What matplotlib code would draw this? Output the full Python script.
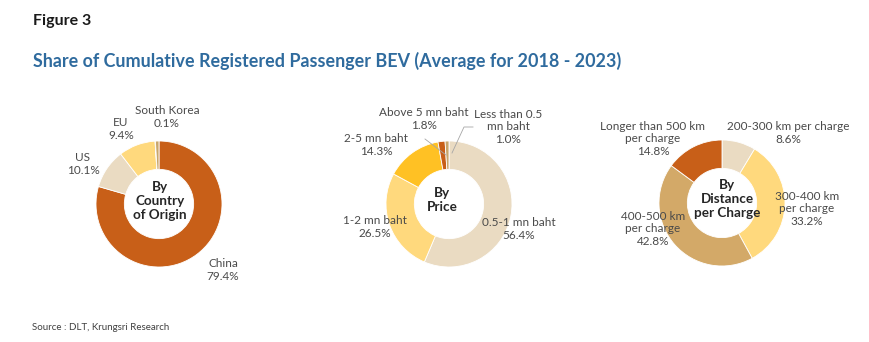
import matplotlib.pyplot as plt

plt.rcParams['font.family'] = ['Lato', 'DejaVu Sans']

# data
country_labels = ['China', 'US', 'EU', 'South Korea', '']
country_values = [79.4, 10.1, 9.4, 0.1, 0.9]
price_labels = ['0.5-1 mn baht', '1-2 mn baht', '2-5 mn baht', 'Above 5 mn baht', 'Less than 0.5\nmn baht']
price_values = [56.4, 26.5, 14.3, 1.8, 1.0]
dist_labels = ['200-300 km per charge', '300-400 km\nper charge', '400-500 km\nper charge', 'Longer than 500 km\nper charge']
dist_values = [8.6, 33.2, 42.8, 14.8]

ORANGE = '#C85F18'
BEIGE = '#EADBC2'
LYELLOW = '#FFD97D'
GOLD = '#FFC124'
TAN = '#C9A66B'
TAN2 = '#D3A968'

W, H = 870, 342
fig = plt.figure(figsize=(W / 100, H / 100), dpi=100)
ax = fig.add_axes([0, 0, 1, 1])

R = 63
WIDTH = 0.45


# y axis is inverted later, so startangle -90 = top and counterclock draws clockwise on screen
def donut(values, colors, cx, cy):
    ax.pie(values, colors=colors, center=(cx, cy), radius=R, startangle=-90,
           counterclock=True, wedgeprops=dict(width=R * WIDTH, edgecolor='white', linewidth=0.6),
           frame=True)


donut(country_values, [ORANGE, BEIGE, LYELLOW, TAN, TAN], 159, 204)
donut(price_values, [BEIGE, LYELLOW, GOLD, ORANGE, TAN], 449, 204)
donut(dist_values, [BEIGE, LYELLOW, TAN2, ORANGE], 722, 203)
ax.set_xlim(0, W)
ax.set_ylim(H, 0)
ax.set_aspect('auto')
ax.axis('off')

lab = dict(fontsize=8.5, color='#4A4A4A', ha='center', va='center', linespacing=1.2)
ctr = dict(fontsize=9.7, color='#262626', ha='center', va='center', fontweight='bold', linespacing=1.2)


def pct(v):
    return f'{v:.1f}%'


# country labels
ax.text(223, 270, f'{country_labels[0]}\n{pct(country_values[0])}', **lab)
ax.text(83, 164, f'{country_labels[1]}\n{pct(country_values[1])}', **lab)
ax.text(121, 129, f'{country_labels[2]}\n{pct(country_values[2])}', **lab)
ax.text(167, 117, f'{country_labels[3]}\n{pct(country_values[3])}', **lab)
ax.text(160, 201, 'By\nCountry\nof Origin', **ctr)

# price labels
ax.text(519, 229, f'{price_labels[0]}\n{pct(price_values[0])}', **lab)
ax.text(375, 227, f'{price_labels[1]}\n{pct(price_values[1])}', **lab)
ax.text(376, 145, f'{price_labels[2]}\n{pct(price_values[2])}', **lab)
ax.text(424, 119, f'{price_labels[3]}\n{pct(price_values[3])}', **lab)
ax.text(508, 127, f'{price_labels[4]}\n{pct(price_values[4])}', **lab)
ax.text(442, 200, 'By\nPrice', **ctr)
ax.plot([425, 446], [139, 155], color='#A6A6A6', lw=0.6)
ax.plot([473, 464, 452], [127, 127, 153], color='#A6A6A6', lw=0.6)

# distance labels
ax.text(788, 133, f'{dist_labels[0]}\n{pct(dist_values[0])}', **lab)
ax.text(807, 209, f'{dist_labels[1]}\n{pct(dist_values[1])}', **lab)
ax.text(653, 229, f'{dist_labels[2]}\n{pct(dist_values[2])}', **lab)
ax.text(653, 139, f'{dist_labels[3]}\n{pct(dist_values[3])}', **lab)
ax.text(727, 199, 'By\nDistance\nper Charge', **ctr)

# titles
ax.text(33, 21, 'Figure 3', fontsize=11.5, fontweight='bold', color='#1A1A1A', va='center')
ax.text(33, 61, 'Share of Cumulative Registered Passenger BEV (Average for 2018 - 2023)',
        fontsize=12.9, fontweight='bold', color='#2F6B9E', va='center')
ax.text(32, 328, 'Source : DLT, Krungsri Research', fontsize=7, color='#404040', va='center')

fig.savefig('out.png', dpi=100)
